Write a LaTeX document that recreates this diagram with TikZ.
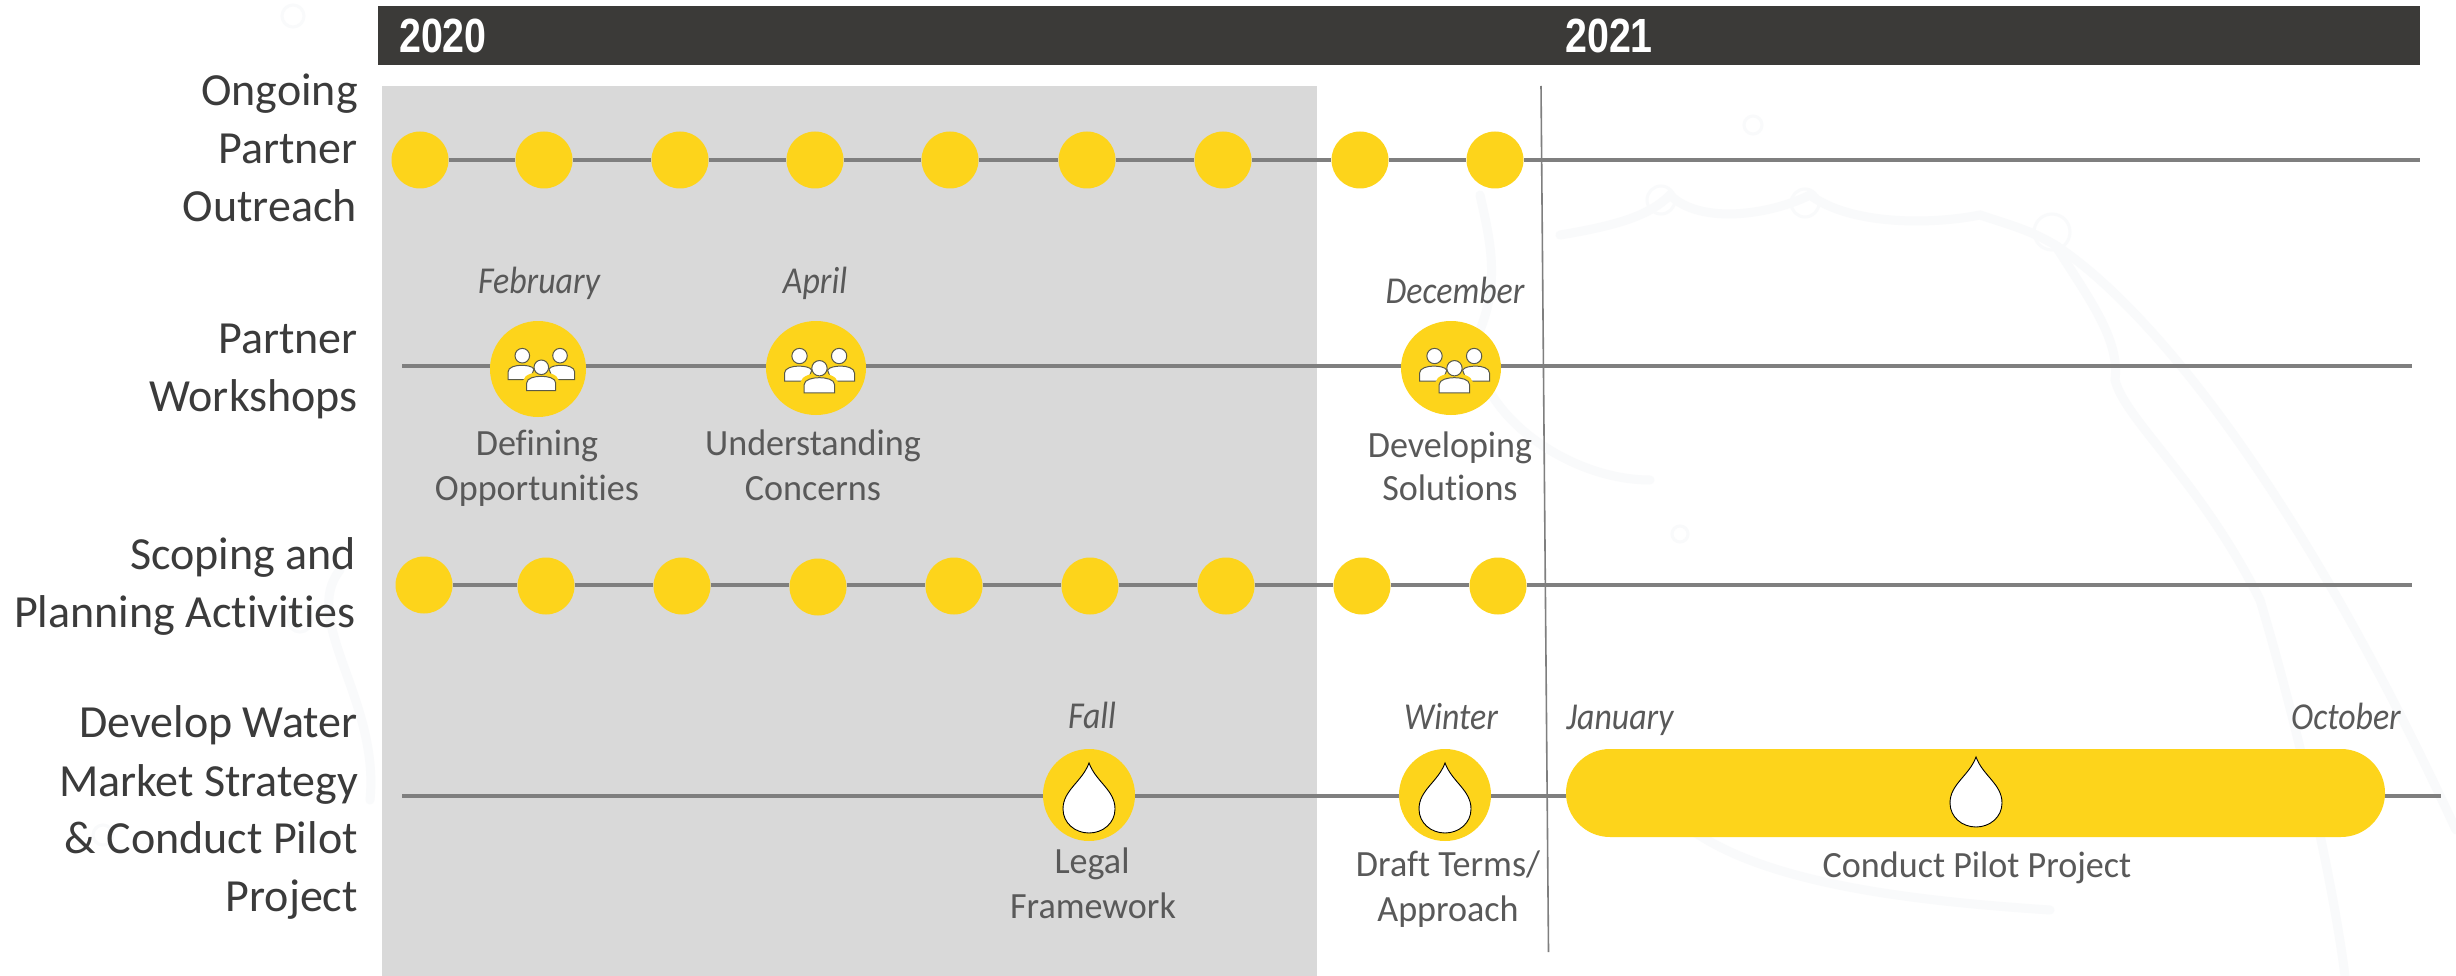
\documentclass[tikz,border=0pt]{standalone}
\usepackage{fontspec}
\usetikzlibrary{shapes.geometric}
\setmainfont[Ligatures=NoCommon]{Carlito}
\newfontfamily\notefont[Ligatures=NoCommon,FakeStretch=0.975]{Carlito}
\newfontfamily\monthfont[Ligatures=NoCommon,FakeStretch=0.89,ItalicFont={Carlito Italic}]{Carlito}
\newfontfamily\yearfont[FakeStretch=0.82]{Liberation Sans}
\definecolor{wyellow}{HTML}{FDD41B}
\definecolor{bardark}{HTML}{3B3A38}
\definecolor{panelgray}{HTML}{D9D9D9}
\definecolor{linegray}{HTML}{7F7F7F}
\definecolor{labeldark}{HTML}{3B3B3B}
\definecolor{labelgray}{HTML}{595959}
\definecolor{splash}{HTML}{F9FAFB}
\definecolor{iconline}{HTML}{5A5A48}
\tikzset{
  rowlabel/.style={anchor=base east,font=\fontsize{46}{56}\selectfont,text=labeldark,inner sep=0pt},
  monthlabel/.style={anchor=base,font=\fontsize{38}{44}\monthfont\itshape,text=labelgray,inner sep=0pt},
  notelabel/.style={anchor=base,font=\fontsize{37}{44}\notefont,text=labelgray,inner sep=0pt},
  yearlabel/.style={anchor=base,font=\fontsize{48}{50}\yearfont\bfseries,text=white,inner sep=0pt},
  rowline/.style={draw=linegray,line width=4pt},
  smalldot/.style={circle,fill=wyellow,minimum size=57pt,inner sep=0pt},
  bigdot/.style={ellipse,fill=wyellow,inner sep=0pt},
  dropdot/.style={circle,fill=wyellow,minimum size=92pt,inner sep=0pt},
  iconpart/.style={draw=iconline,fill=white,line width=1pt},
  droppart/.style={draw=black,fill=white,line width=.9pt},
  splashline/.style={draw=splash,line width=9pt,line cap=round},
  splashdrop/.style={draw=splash,line width=3pt}
}
\newcommand{\peopleicon}[2]{%
  \begin{scope}[shift={(#1)},scale=#2]
    \path[iconpart] (-30,10.7) -- (-30,3) .. controls (-30,-2) and (-22,-3.7) .. (-17,-3.7) .. controls (-12,-3.7) and (-6,-3) .. (-4,0) -- (-8,10.7) -- cycle;
    \path[iconpart] (36.7,10.7) -- (36.7,3) .. controls (36.7,-2) and (29,-3.7) .. (24,-3.7) .. controls (19,-3.7) and (13,-3) .. (11,0) -- (15,10.7) -- cycle;
    \path[iconpart] (-15.7,-13.3) circle (7.3);
    \path[iconpart] (22,-13.3) circle (7.3);
    \path[draw=wyellow,fill=wyellow,line width=2pt] (-14,12) .. controls (-13,6) and (-3,4) .. (3,4) .. controls (9,4) and (19,6) .. (20,12) -- cycle;
    \path[iconpart] (-11.3,21.7) -- (-11.3,14) .. controls (-11.3,9) and (-3,7.3) .. (3.2,7.3) .. controls (9.5,7.3) and (17.7,9) .. (17.7,14) -- (17.7,21.7) -- cycle;
    \path[iconpart] (3.3,-1.7) circle (7.3);
  \end{scope}}
\newcommand{\waterdrop}[1]{%
  \path[droppart,shift={(#1)}] (0,0) .. controls (7,19) and (26,27) .. (26,46) .. controls (26,60) and (14,70) .. (0,70) .. controls (-14,70) and (-26,60) .. (-26,46) .. controls (-26,27) and (-7,19) .. (0,0) -- cycle;}
\begin{document}
\begin{tikzpicture}[x=1pt,y=-1pt]
\useasboundingbox (0,0) rectangle (2456,976);
\fill[white] (0,0) rectangle (2456,976);
% faint water splash in the background
\path[splashline] (1560,235) .. controls (1620,225) and (1650,215) .. (1670,195) .. controls (1700,225) and (1770,215) .. (1810,195) .. controls (1850,225) and (1930,225) .. (1980,215) .. controls (2010,225) and (2030,230) .. (2055,245) .. controls (2140,300) and (2290,470) .. (2456,830);
\path[splashline] (2055,245) .. controls (2090,300) and (2120,340) .. (2115,380) .. controls (2125,420) and (2200,480) .. (2260,600) .. controls (2290,700) and (2330,860) .. (2345,976);
\path[splashline] (1480,195) .. controls (1490,240) and (1500,280) .. (1480,330) .. controls (1460,400) and (1560,480) .. (1650,480);
\path[splashline] (1660,800) .. controls (1720,880) and (1900,900) .. (2050,910);
\path[splashline] (340,570) .. controls (300,620) and (380,700) .. (370,800);
\path[splashdrop] (1753,125) circle (9);
\path[splashdrop] (300,620) circle (12);
\path[splashdrop] (103,835) circle (10);
\path[splashdrop] (293,16) circle (11);
\path[splashdrop] (1661,200) circle (14);
\path[splashdrop] (1805,203) circle (14);
\path[splashdrop] (2052,232) circle (18);
\path[splashdrop] (1680,534) circle (8);
% panel, bar, divider
\fill[panelgray] (382,86) rectangle (1317,976);
\fill[bardark] (378,6) rectangle (2420,65);
\coordinate (divtop) at (1541,86);
\coordinate (divbot) at (1548.5,952);
\draw[linegray,line width=1.6pt] (divtop) -- (divbot);
\node[yearlabel] (y20) at (443,53) {2020};
\node[yearlabel] (y21) at (1609,53) {2021};
% row labels
\node[rowlabel] (l1a) at (358,106) {Ongoing};
\node[rowlabel] (l1b) at (358,164) {Partner};
\node[rowlabel] (l1c) at (357,222) {Outreach};
\node[rowlabel] (l2a) at (358,353) {Partner};
\node[rowlabel] (l2b) at (358,411) {Workshops};
\node[rowlabel] (l3a) at (356,569) {Scoping and};
\node[rowlabel] (l3b) at (356,627) {Planning Activities};
\node[rowlabel] (l4a) at (358,737) {Develop Water};
\node[rowlabel] (l4b) at (358,796) {Market Strategy};
\node[rowlabel] (l4c) at (358,853) {\&~Conduct Pilot};
\node[rowlabel] (l4d) at (358,911) {Project};
% row 1
\coordinate (r1end) at (2420,160);
\foreach \n/\x in {1/420,2/544,3/680,4/815,5/950,6/1087,7/1223,8/1360,9/1495}
  \node[smalldot] (a\n) at (\x,160) {};
% row 3
\coordinate (r3start) at (424,585);
\coordinate (r3end) at (2412,585);
\foreach \n/\x/\y in {1/424/585,2/546/586,3/682/586,4/818/587,5/954/586,6/1090/586,7/1226/586,8/1362/586,9/1498/586}
  \node[smalldot] (c\n) at (\x,\y) {};
% row 2
\coordinate (r2start) at (402,366);
\coordinate (r2end) at (2412,366);
\node[bigdot,minimum width=96pt,minimum height=96pt] (b1) at (538,369) {};
\node[bigdot,minimum width=100pt,minimum height=94pt] (b2) at (816,368) {};
\node[bigdot,minimum width=100pt,minimum height=94pt] (b3) at (1451,368) {};
% row 4
\coordinate (r4start) at (402,796);
\coordinate (r4end) at (2441,796);
\node[dropdot] (d1) at (1089,795) {};
\node[dropdot] (d2) at (1445,795) {};
\node[fill=wyellow,rounded corners=44pt,minimum width=819pt,minimum height=88pt,inner sep=0pt] (pill) at (1975.5,793) {};
% connectors, all drawn between the named shapes
\draw[rowline] (a1) -- (a2);
\draw[rowline] (a2) -- (a3);
\draw[rowline] (a3) -- (a4);
\draw[rowline] (a4) -- (a5);
\draw[rowline] (a5) -- (a6);
\draw[rowline] (a6) -- (a7);
\draw[rowline] (a7) -- (a8);
\draw[rowline] (a8) -- (a9);
\draw[rowline] (a9) -- (r1end);
\draw[rowline] (c1.east |- r3start) -- (c2.west |- r3start);
\draw[rowline] (c2.east |- r3start) -- (c3.west |- r3start);
\draw[rowline] (c3.east |- r3start) -- (c4.west |- r3start);
\draw[rowline] (c4.east |- r3start) -- (c5.west |- r3start);
\draw[rowline] (c5.east |- r3start) -- (c6.west |- r3start);
\draw[rowline] (c6.east |- r3start) -- (c7.west |- r3start);
\draw[rowline] (c7.east |- r3start) -- (c8.west |- r3start);
\draw[rowline] (c8.east |- r3start) -- (c9.west |- r3start);
\draw[rowline] (c9.east |- r3start) -- (r3end);
\draw[rowline] (r2start) -- (b1.west |- r2start);
\draw[rowline] (b1.east |- r2start) -- (b2.west |- r2start);
\draw[rowline] (b2.east |- r2start) -- (b3.west |- r2start);
\draw[rowline] (b3.east |- r2start) -- (r2end);
\draw[rowline] (r4start) -- (d1.west |- r4start);
\draw[rowline] (d1.east |- r4start) -- (d2.west |- r4start);
\draw[rowline] (d2.east |- r4start) -- (pill.west |- r4start);
\draw[rowline] (pill.east |- r4start) -- (r4end);
% icons
\peopleicon{538,369}{1}
\peopleicon{816,370}{1.05}
\peopleicon{1451,370}{1.05}
\waterdrop{1089,763}
\waterdrop{1445,763}
\waterdrop{1976,757}
% labels
\node[monthlabel] (m1) at (539,293) {February};
\node[monthlabel] (m2) at (815,293) {April};
\node[monthlabel] (m3) at (1455,303) {December};
\node[monthlabel] (m4) at (1092,728) {Fall};
\node[monthlabel] (m5) at (1451,729) {Winter};
\node[monthlabel] (m6) at (1620,729) {January};
\node[monthlabel] (m7) at (2346,729) {October};
\node[notelabel] (n1a) at (537,455) {Defining};
\node[notelabel] (n1b) at (537,500) {Opportunities};
\node[notelabel] (n2a) at (813,455) {Understanding};
\node[notelabel] (n2b) at (813,500) {Concerns};
\node[notelabel] (n3a) at (1450,457) {Developing};
\node[notelabel] (n3b) at (1450,500) {Solutions};
\node[notelabel] (n4a) at (1092,873) {Legal};
\node[notelabel] (n4b) at (1093,918) {Framework};
\node[notelabel] (n5a) at (1448,876) {Draft Terms/};
\node[notelabel] (n5b) at (1448,921) {Approach};
\node[notelabel] (n6) at (1977,877) {Conduct Pilot Project};
\end{tikzpicture}
\end{document}
